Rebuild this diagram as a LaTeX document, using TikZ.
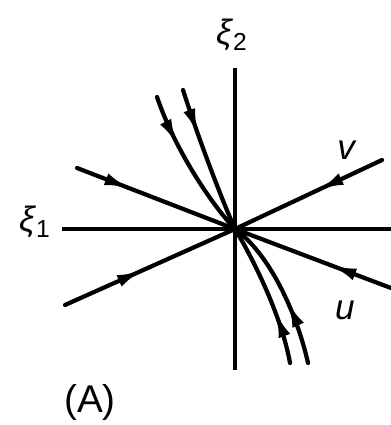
\documentclass[tikz,border=0pt]{standalone}
\usepackage{fontspec}
\setmainfont{Liberation Sans}
\usetikzlibrary{arrows.meta,decorations.markings}
\tikzset{
  >={Latex[length=15pt,width=7pt]},
  axis/.style={line width=2pt},
  traj/.style={line width=2.4pt,line cap=round},
  midarr/.style={postaction={decorate},
    decoration={markings,mark=at position #1 with {\arrow{>}}}},
  lbl/.style={font=\fontsize{20}{24}\selectfont,inner sep=0pt},
}

\begin{document}
\begin{tikzpicture}[x=0.02cm,y=-0.02cm]
  \useasboundingbox (0,0) rectangle (391,425);
  % --- axes ---
  \coordinate (O) at (235,229);
  \coordinate (x1a) at (62,229);
  \coordinate (x1b) at (391,229);
  \coordinate (x2a) at (235,68);
  \coordinate (x2b) at (235,370);
  \draw[axis] (x1a) -- (x1b);
  \draw[axis] (x2a) -- (x2b);
  \node[lbl] (xi1) at (35,222) {\textit{ξ}\textsubscript{1}};
  \node[lbl] (xi2) at (232,35) {\textit{ξ}\textsubscript{2}};
  % --- straight trajectories (u and v directions) ---
  \coordinate (ul) at (77,168);
  \coordinate (ur) at (391,288);
  \coordinate (vl) at (65,305);
  \coordinate (vr) at (382,160);
  \draw[traj,midarr=0.34] (ul) -- (O);
  \draw[traj,midarr=0.39] (ur) -- (O);
  \draw[traj,midarr=0.46] (vl) -- (O);
  \draw[traj,midarr=0.44] (vr) -- (O);
  \node[lbl] (vlab) at (347,150) {\textit{v}};
  \node[lbl] (ulab) at (345,310) {\textit{u}};
  % --- curved trajectories ---
  \coordinate (t1) at (157,97);
  \coordinate (t2) at (183,90);
  \coordinate (b1) at (290,363);
  \coordinate (b2) at (308,363);
  \draw[traj,midarr=0.34] (t1) .. controls (175,150) and (212,205) .. (O);
  \draw[traj,midarr=0.32] (t2) .. controls (199,140) and (222,200) .. (O);
  \draw[traj,midarr=0.37] (b1) .. controls (282,318) and (255,262) .. (O);
  \draw[traj,midarr=0.42] (b2) .. controls (298,318) and (272,256) .. (O);
  % --- panel label ---
  \node[lbl,font=\fontsize{22}{26}\selectfont] (panel) at (90,402) {(A)};
\end{tikzpicture}
\end{document}
